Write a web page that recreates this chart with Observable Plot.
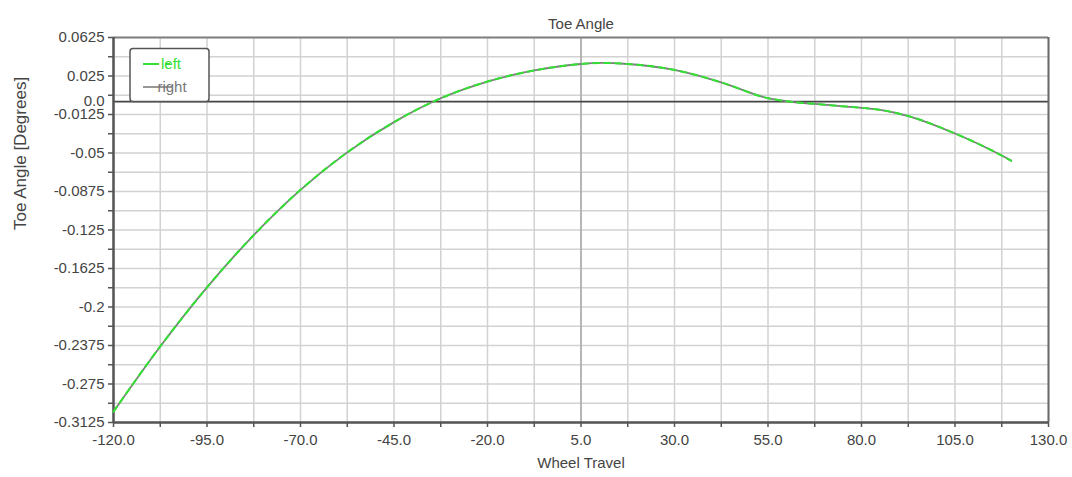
<!DOCTYPE html>
<html>
<head>
<meta charset="utf-8">
<script src="https://cdn.jsdelivr.net/npm/d3@7"></script>
<script src="https://cdn.jsdelivr.net/npm/@observablehq/plot@0.6"></script>
<style>
  html, body { margin: 0; padding: 0; background: #fff; }
</style>
</head>
<body>
<div id="chart"></div>
<script>
// ---- data ----
const titleText = "Toe Angle";
const xLabelText = "Wheel Travel";
const yLabelText = "Toe Angle [Degrees]";
const seriesNames = ["left", "right"];

const travel = [-120, -107.5, -95, -82.5, -70, -57.5, -45, -32.5, -20, -7.5, 5, 10, 17.5, 30, 42.5, 55, 60, 67.5, 75, 80, 85, 92.5, 105, 117.5, 120];
const leftToe = [-0.3019, -0.2384, -0.1809, -0.1299, -0.0859, -0.0494, -0.0199, 0.0033, 0.0196, 0.0304, 0.0367, 0.0377, 0.0367, 0.0309, 0.0188, 0.0034, 0.0004, -0.0022, -0.0045, -0.0060, -0.0080, -0.0140, -0.0310, -0.0525, -0.0575];
const rightToe = [-0.3019, -0.2384, -0.1809, -0.1299, -0.0859, -0.0494, -0.0199, 0.0033, 0.0196, 0.0304, 0.0367, 0.0377, 0.0367, 0.0309, 0.0188, 0.0034, 0.0004, -0.0022, -0.0045, -0.0060, -0.0080, -0.0140, -0.0310, -0.0525, -0.0575];

const xTicks = [-120, -95, -70, -45, -20, 5, 30, 55, 80, 105, 130];
const xTickLabels = ["-120.0", "-95.0", "-70.0", "-45.0", "-20.0", "5.0", "30.0", "55.0", "80.0", "105.0", "130.0"];
const xMinor = [-120, -107.5, -95, -82.5, -70, -57.5, -45, -32.5, -20, -7.5, 5, 17.5, 30, 42.5, 55, 67.5, 80, 92.5, 105, 117.5, 130];

const yTicks = [0.0625, 0.025, 0, -0.0125, -0.05, -0.0875, -0.125, -0.1625, -0.2, -0.2375, -0.275, -0.3125];
const yTickLabels = ["0.0625", "0.025", "0.0", "-0.0125", "-0.05", "-0.0875", "-0.125", "-0.1625", "-0.2", "-0.2375", "-0.275", "-0.3125"];
const yMinor = [0.0625, 0.04375, 0.025, 0.00625, -0.0125, -0.03125, -0.05, -0.06875, -0.0875, -0.10625, -0.125, -0.14375, -0.1625, -0.18125, -0.2, -0.21875, -0.2375, -0.25625, -0.275, -0.29375, -0.3125];

const colors = { left: "#33e033", right: "#7d7d7d" };

const leftData = travel.map((t, i) => ({ t, v: leftToe[i] }));
const rightData = travel.map((t, i) => ({ t, v: rightToe[i] }));

const font = "'Liberation Sans', Arial, sans-serif";

const chart = Plot.plot({
  width: 1072,
  height: 477,
  marginLeft: 113,
  marginRight: 24,
  marginTop: 37,
  marginBottom: 55,
  style: { fontFamily: font, fontSize: "15px", color: "#444", background: "#fff", overflow: "visible" },
  x: { domain: [-120, 130] },
  y: { domain: [-0.3125, 0.0625] },
  marks: [
    Plot.gridX(xMinor, { stroke: "#d2d2d2", strokeOpacity: 1, strokeWidth: 1.5 }),
    Plot.gridY(yMinor, { stroke: "#d2d2d2", strokeOpacity: 1, strokeWidth: 1.5 }),
    Plot.ruleX([5], { stroke: "#a8a8a8", strokeWidth: 1.5 }),
    Plot.ruleY([0], { stroke: "#444", strokeWidth: 1.6 }),
    // frame
    Plot.ruleY([0.0625], { stroke: "#808080", strokeWidth: 2 }),
    Plot.ruleX([130], { stroke: "#6a6a6a", strokeWidth: 2 }),
    Plot.ruleX([-120], { stroke: "#555", strokeWidth: 2.5 }),
    Plot.ruleY([-0.3125], { stroke: "#555", strokeWidth: 2.5 }),
    // axes tick marks
    Plot.axisX(xMinor, { anchor: "bottom", tickSize: 5, tickFormat: () => "", stroke: "#555", strokeWidth: 1.5, label: null }),
    Plot.axisY(yMinor, { anchor: "left", tickSize: 5, tickFormat: () => "", stroke: "#555", strokeWidth: 1.5, label: null }),
    // axes labels
    Plot.axisX(xTicks, { anchor: "bottom", tickSize: 0, tickPadding: 12, tickFormat: d => xTickLabels[xTicks.indexOf(d)], fontSize: 15, label: null }),
    Plot.axisY(yTicks, { anchor: "left", tickSize: 0, tickPadding: 9, tickFormat: d => yTickLabels[yTicks.indexOf(d)], fontSize: 15, label: null }),
    // series
    Plot.line(rightData, { x: "t", y: "v", stroke: colors.right, strokeWidth: 1.8, curve: "monotone-x" }),
    Plot.line(leftData, { x: "t", y: "v", stroke: colors.left, strokeWidth: 2, strokeDasharray: "6,5", curve: "monotone-x" }),
    // titles
    Plot.text([titleText], { frameAnchor: "top", dy: -19, fontSize: 15, fill: "#444" }),
    Plot.text([xLabelText], { frameAnchor: "bottom", dy: 45, fontSize: 15, fill: "#444" }),
    Plot.text([yLabelText], { frameAnchor: "left", dx: -93, rotate: -90, fontSize: 17, fill: "#444" })
  ]
});

document.getElementById("chart").appendChild(chart);

// legend
const svg = d3.select(chart);
const lg = svg.append("g").attr("font-family", font).attr("font-size", 15);
lg.append("rect").attr("x", 130).attr("y", 48.5).attr("width", 79).attr("height", 53).attr("rx", 3)
  .attr("fill", "#fff").attr("stroke", "#555").attr("stroke-width", 1.5);
lg.append("line").attr("x1", 143).attr("x2", 171).attr("y1", 64).attr("y2", 64)
  .attr("stroke", colors.left).attr("stroke-width", 2).attr("stroke-dasharray", "16,6,5,100");
lg.append("text").attr("x", 171).attr("y", 64).attr("dy", "0.35em").attr("fill", colors.left).text(seriesNames[0]);
lg.append("line").attr("x1", 143).attr("x2", 172).attr("y1", 87).attr("y2", 87)
  .attr("stroke", colors.right).attr("stroke-width", 1.6);
lg.append("text").attr("x", 172).attr("y", 87).attr("dy", "0.35em").attr("fill", "#777").text(seriesNames[1]);
</script>
</body>
</html>
